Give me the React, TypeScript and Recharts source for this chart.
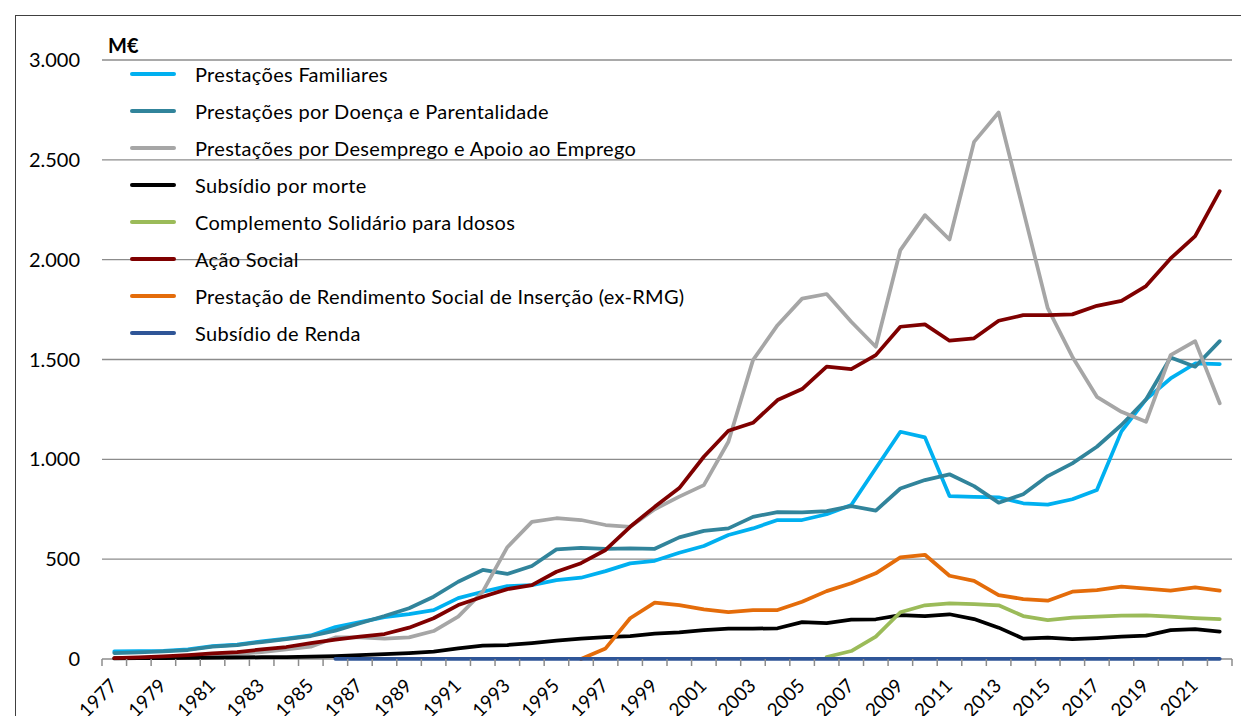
import { CartesianGrid, Legend, Line, LineChart, XAxis, YAxis } from 'recharts';

const years = [
	1977, 1978, 1979, 1980, 1981, 1982, 1983, 1984, 1985, 1986, 1987, 1988, 1989, 1990, 1991, 1992,
	1993, 1994, 1995, 1996, 1997, 1998, 1999, 2000, 2001, 2002, 2003, 2004, 2005, 2006, 2007, 2008,
	2009, 2010, 2011, 2012, 2013, 2014, 2015, 2016, 2017, 2018, 2019, 2020, 2021, 2022,
];

// M€ por ano
const familiares = [
	38, 39, 41, 48, 64, 72, 88, 102, 118, 160, 185, 210, 225, 245, 305, 337, 365, 370, 395, 407, 440,
	479, 492, 532, 566, 621, 654, 696, 696, 725, 771, 955, 1138, 1110, 816, 812, 810, 780, 773, 800,
	846, 1140, 1300, 1405, 1480, 1477,
];
const doenca = [
	30, 33, 38, 45, 62, 70, 85, 100, 115, 142, 179, 215, 254, 312, 387, 446, 426, 466, 549, 556, 552,
	554, 552, 609, 642, 654, 712, 736, 734, 741, 766, 743, 854, 896, 925, 866, 783, 825, 916, 980, 1063,
	1172, 1300, 1510, 1464, 1592,
];
const desemprego = [
	5, 6, 8, 12, 18, 25, 35, 48, 62, 108, 108, 102, 108, 140, 212, 337, 560, 687, 705, 696, 671, 662,
	750, 813, 871, 1088, 1497, 1672, 1805, 1828, 1689, 1564, 2048, 2223, 2101, 2590, 2737, 2248, 1757,
	1514, 1313, 1238, 1188, 1522, 1592, 1281,
];
const morte = [
	3, 4, 5, 6, 7, 8, 9, 10, 12, 15, 20, 25, 30, 37, 53, 67, 70, 80, 92, 102, 110, 115, 127, 133, 145,
	152, 152, 154, 185, 180, 197, 199, 220, 215, 224, 200, 157, 102, 107, 99, 105, 112, 117, 145, 150,
	137,
];
const csi = [
	null, null, null, null, null, null, null, null, null, null, null, null, null, null, null, null,
	null, null, null, null, null, null, null, null, null, null, null, null, null, 10, 40, 112, 234, 269,
	279, 275, 269, 215, 195, 207, 212, 217, 219, 212, 205, 200,
];
const acaoSocial = [
	4, 8, 13, 20, 28, 35, 48, 60, 80, 97, 112, 125, 157, 204, 270, 312, 350, 370, 437, 480, 546, 662,
	762, 856, 1013, 1143, 1183, 1297, 1352, 1464, 1452, 1522, 1664, 1676, 1594, 1606, 1694, 1722,
	1722, 1726, 1769, 1794, 1868, 2006, 2118, 2343,
];
const rsi = [
	null, null, null, null, null, null, null, null, null, null, null, null, null, null, null, null,
	null, null, null, 0, 53, 204, 282, 270, 249, 235, 245, 245, 287, 340, 379, 429, 509, 522, 417, 391,
	320, 300, 292, 337, 345, 362, 352, 342, 359, 342,
];
const renda = [
	null, null, null, null, null, null, null, null, null, 1, 1, 1, 1, 1, 1, 1, 1, 1, 1, 1, 1, 1, 1, 1,
	1, 1, 1, 1, 1, 1, 1, 1, 1, 1, 1, 1, 1, 1, 1, 1, 1, 1, 1, 1, 1, 1,
];

const yTicks = [0, 500, 1000, 1500, 2000, 2500, 3000];
const yearLabels = [
	1977, 1979, 1981, 1983, 1985, 1987, 1989, 1991, 1993, 1995, 1997, 1999, 2001, 2003, 2005, 2007,
	2009, 2011, 2013, 2015, 2017, 2019, 2021,
];

const series = [
	{ key: 'familiares', name: 'Prestações Familiares', color: '#00B0F0', values: familiares },
	{ key: 'doenca', name: 'Prestações por Doença e Parentalidade', color: '#31849B', values: doenca },
	{ key: 'desemprego', name: 'Prestações por Desemprego e Apoio ao Emprego', color: '#A6A6A6', values: desemprego },
	{ key: 'morte', name: 'Subsídio por morte', color: '#000000', values: morte },
	{ key: 'csi', name: 'Complemento Solidário para Idosos', color: '#9BBB59', values: csi },
	{ key: 'acaoSocial', name: 'Ação Social', color: '#7F0000', values: acaoSocial },
	{ key: 'rsi', name: 'Prestação de Rendimento Social de Inserção (ex-RMG)', color: '#E46C0A', values: rsi },
	{ key: 'renda', name: 'Subsídio de Renda', color: '#2F5597', values: renda },
];

const data = years.map((year, i) => {
	const row: Record<string, number | null> = { year };
	series.forEach((s) => {
		row[s.key] = s.values[i];
	});
	return row;
});

// tick marks sit between the years, labels on every other year
const boundaries = [years[0] - 0.5, ...years.map((y) => y + 0.5)];
const xTicks = [...boundaries, ...yearLabels];

const FONT = 'Lato, "Open Sans", sans-serif';

const fmt = (v: number) => v.toLocaleString('de-DE');

const YearTick = (props: any) => {
	const { x, y, payload } = props;
	const v = payload.value as number;
	if (v % 1 !== 0) {
		return <line x1={x} x2={x} y1={y} y2={y + 7} stroke='#8C8C8C' strokeWidth={1.5} />;
	}
	return (
		<text
			x={x + 4}
			y={y + 28}
			textAnchor='end'
			transform={`rotate(-45 ${x + 4} ${y + 28})`}
			fontFamily={FONT}
			fontSize={19}
			fill='#000'
		>
			{v}
		</text>
	);
};

const renderLegend = () => (
	<div style={{ fontFamily: FONT, fontSize: 20, letterSpacing: 0.3, color: '#000' }}>
		{series.map((s) => (
			<div key={s.key} style={{ display: 'flex', alignItems: 'center', height: 36.9 }}>
				<div
					style={{
						width: 46,
						height: 4,
						borderRadius: 2,
						background: s.color,
						marginRight: 19,
					}}
				/>
				<span>{s.name}</span>
			</div>
		))}
	</div>
);

export default function App() {
	return (
		<div
			style={{
				position: 'relative',
				width: 1241,
				height: 716,
				marginBottom: -8,
				overflow: 'hidden',
				fontFamily: FONT,
				background: '#fff',
			}}
		>
			<div
				style={{
					position: 'absolute',
					left: 7,
					top: 7,
					width: 1300,
					height: 800,
					border: '1px solid #404040',
				}}
			/>
			<div
				style={{
					position: 'absolute',
					left: 100,
					top: 25,
					fontWeight: 700,
					fontSize: 20,
					color: '#000',
				}}
			>
				M€
			</div>
			<LineChart
				width={1241}
				height={716}
				data={data}
				margin={{ top: 52, right: 17, left: 0, bottom: 0 }}
			>
				<CartesianGrid vertical={false} stroke='#8C8C8C' strokeWidth={1.3} />
				<XAxis
					dataKey='year'
					type='number'
					domain={[years[0] - 0.5, years[years.length - 1] + 0.5]}
					ticks={xTicks}
					interval={0}
					height={65}
					axisLine={false}
					tickLine={false}
					tickSize={0}
					tickMargin={0}
					tick={<YearTick />}
				/>
				<YAxis
					width={94}
					domain={[0, 3000]}
					ticks={yTicks}
					tickFormatter={fmt}
					axisLine={false}
					tickLine={false}
					tickSize={0}
					tickMargin={22}
					tick={{ fontFamily: FONT, fontSize: 20, fill: '#000' }}
				/>
				<Legend
					layout='horizontal'
					verticalAlign='middle'
					align='center'
					content={renderLegend}
					wrapperStyle={{ left: 122, top: 48, width: 700 }}
				/>
				{series.map((s) => (
					<Line
						key={s.key}
						type='linear'
						dataKey={s.key}
						name={s.name}
						stroke={s.color}
						strokeWidth={3.75}
						strokeLinecap='round'
						strokeLinejoin='round'
						dot={false}
						activeDot={false}
						isAnimationActive={false}
					/>
				))}
			</LineChart>
		</div>
	);
}
